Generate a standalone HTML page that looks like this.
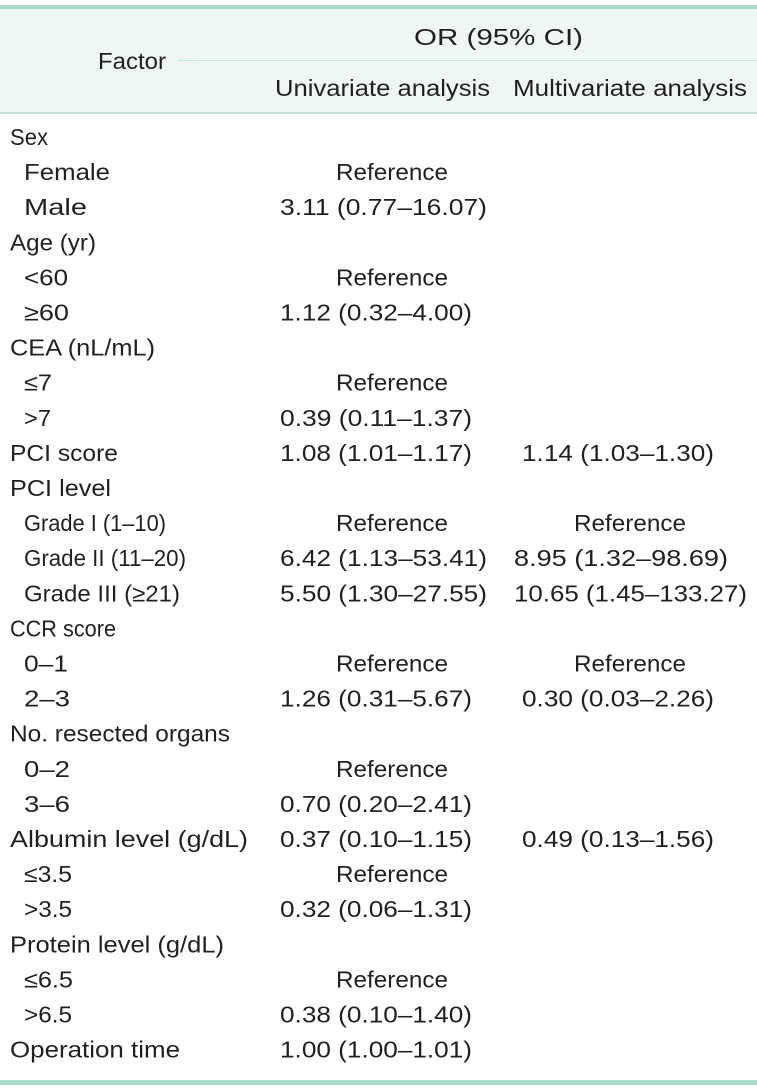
<!DOCTYPE html>
<html><head><meta charset="utf-8"><style>html,body{margin:0;padding:0;background:#fff}svg{display:block}text{font-family:"Liberation Sans",sans-serif;font-size:23px;fill:#231f20}</style></head><body>
<svg width="757" height="1090" xmlns="http://www.w3.org/2000/svg">
<rect x="0" y="9" width="757" height="104" fill="#eef7f4"/>
<rect x="0" y="5" width="757" height="4" fill="#a8dccc"/>
<rect x="178" y="60" width="579" height="1" fill="#bfe5d9"/>
<rect x="0" y="112" width="757" height="2" fill="#bfe5d9"/>
<rect x="0" y="1080" width="757" height="5" fill="#a8dccc"/>
<text x="414" y="45" textLength="169" lengthAdjust="spacingAndGlyphs">OR (95% CI)</text>
<text x="98" y="69" textLength="68" lengthAdjust="spacingAndGlyphs">Factor</text>
<text x="275" y="96" textLength="215" lengthAdjust="spacingAndGlyphs">Univariate analysis</text>
<text x="513" y="96" textLength="234" lengthAdjust="spacingAndGlyphs">Multivariate analysis</text>
<g id="rows"></g>
</svg>
<script>
var L=[["Sex",10,38],["Female",24,86],["Male",24,63],["Age (yr)",10,86],["<60",24,44],["≥60",24,45],["CEA (nL/mL)",10,145],["≤7",24,28],[">7",24,27],["PCI score",10,108],["PCI level",10,101],["Grade I (1–10)",24,142],["Grade II (11–20)",24,162],["Grade III (≥21)",24,156],["CCR score",10,106],["0–1",24,44],["2–3",24,46],["No. resected organs",10,220],["0–2",24,46],["3–6",24,46],["Albumin level (g/dL)",10,238],["≤3.5",24,48],[">3.5",24,48],["Protein level (g/dL)",10,214],["≤6.5",24,49],[">6.5",24,48],["Operation time",10,170]];
var U={1:"R",2:"3.11 (0.77–16.07)",4:"R",5:"1.12 (0.32–4.00)",7:"R",8:"0.39 (0.11–1.37)",9:"1.08 (1.01–1.17)",11:"R",12:"6.42 (1.13–53.41)",13:"5.50 (1.30–27.55)",15:"R",16:"1.26 (0.31–5.67)",18:"R",19:"0.70 (0.20–2.41)",20:"0.37 (0.10–1.15)",21:"R",22:"0.32 (0.06–1.31)",24:"R",25:"0.38 (0.10–1.40)",26:"1.00 (1.00–1.01)"};
var M={9:"1.14 (1.03–1.30)",11:"R",12:"8.95 (1.32–98.69)",13:"10.65 (1.45–133.27)",15:"R",16:"0.30 (0.03–2.26)",20:"0.49 (0.13–1.56)"};
var NS="http://www.w3.org/2000/svg";
function t(x,y,w,str){var e=document.createElementNS(NS,"text");e.setAttribute("x",x);e.setAttribute("y",y);e.setAttribute("textLength",w);e.setAttribute("lengthAdjust","spacingAndGlyphs");e.textContent=str;document.getElementById("rows").appendChild(e);}
function w(str){return str.length>=19?233:(str.length==17?207:192);}
for(var i=0;i<L.length;i++){var y=137+35.1*i+8;t(L[i][1],y,L[i][2],L[i][0]);
if(U[i]){if(U[i]=="R")t(336,y,112,"Reference");else t(280,y,w(U[i]),U[i]);}
if(M[i]){if(M[i]=="R")t(574,y,112,"Reference");else{var x=M[i].length==16?522:514;var ww=M[i].length==16?192:(M[i].length==17?214:233);t(x,y,ww,M[i]);}}}
</script>
</body></html>
